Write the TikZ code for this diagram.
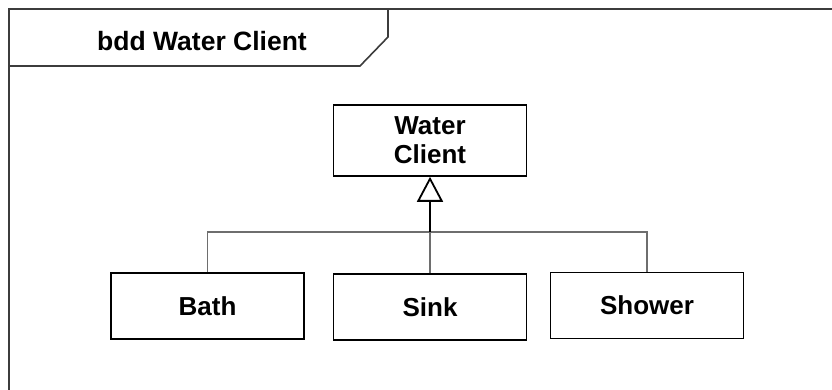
\documentclass[tikz,border=0pt]{standalone}
\usepackage{fontspec}
\setmainfont{Liberation Sans}
\usepackage{tikz}
\usetikzlibrary{
    arrows.meta,
    positioning
}
\definecolor{frameGray}{RGB}{60,60,60}
\definecolor{linkGray}{RGB}{110,110,110}
\tikzset{
  blockbox/.style = {draw=black, line width=1.6pt, fill=white,
                     minimum width=193pt, minimum height=66pt,
                     align=center, inner sep=0pt,
                     font=\fontsize{26}{29}\selectfont\bfseries},
  link/.style     = {linkGray, line width=1.4pt},
  genarr/.style   = {-{Triangle[open, length=25pt, width=26pt]},
                     black, line width=1.8pt}
}

\begin{document}
\begin{tikzpicture}[
    x=1pt, y=-1pt,
    frm/.style={frameGray, line width=1.6pt},
    hdr/.style={font=\fontsize{26.5}{29}\selectfont\bfseries}
  ]
    \useasboundingbox (0,0) rectangle (832,390);
    % frame and its header
    \draw[frm] (9,390) |- (832,9);
    \draw[frm] (9,66) -- (360,66) -- (388,37) -- (388,9);
    \node[hdr] (title) at (202,41) {bdd Water Client};

    \node[blockbox, minimum height=71pt] (client) at (430,140.5) {Water\\Client};
    \node[blockbox] (bath)   at (207.5,306) {Bath};
    \node[blockbox] (sink)   at (430,307)   {Sink};
    \node[blockbox] (shower) at (647,305.5) {Shower};

    \coordinate (junc) at (430,232);
    \draw[link] (bath.north) |- (junc);
    \draw[link] (shower.north) |- (junc);
    \draw[link] (sink.north) -- (junc);
    \draw[genarr] (junc) -- (client.south);
  \end{tikzpicture}
\end{document}
